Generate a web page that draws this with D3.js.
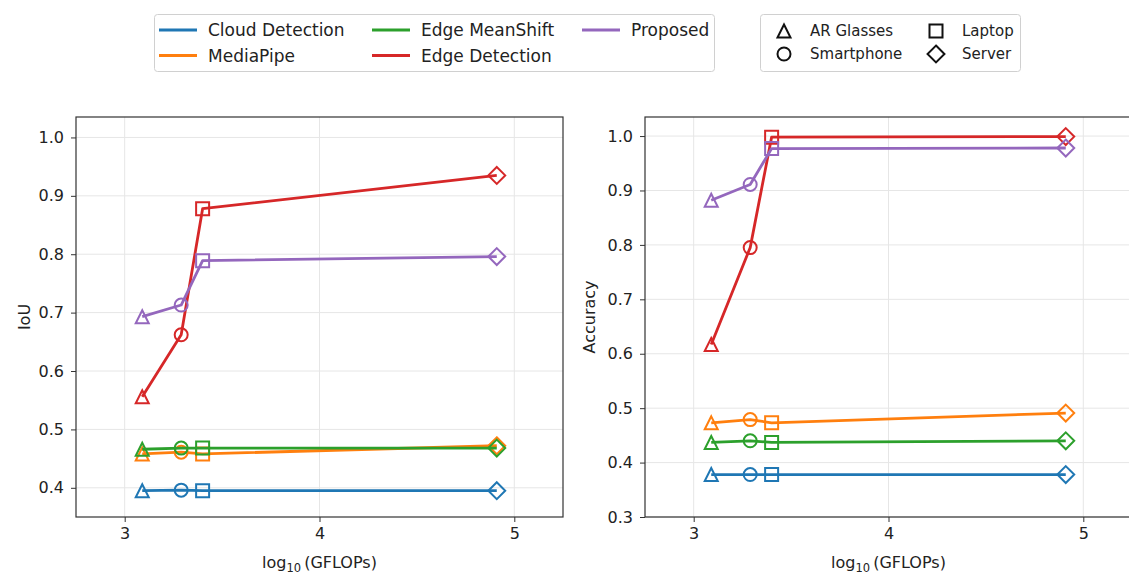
<!DOCTYPE html>
<html>
<head>
<meta charset="utf-8">
<script src="https://cdn.jsdelivr.net/npm/d3@7"></script>
<style>
  body { margin: 0; background: #fff; }
  text { font-family: "DejaVu Sans", sans-serif; fill: #222; }
</style>
</head>
<body>
<div class="box"></div>
<script>
// donnees
const methods = ['Cloud Detection', 'MediaPipe', 'Edge MeanShift', 'Edge Detection', 'Proposed']
const colors = ['#1f77b4', '#ff7f0e', '#2ca02c', '#d62728', '#9467bd']
const devices = ['AR Glasses', 'Smartphone', 'Laptop', 'Server']
const deviceShapes = ['triangle', 'circle', 'square', 'diamond']
const gflopsLog = [3.09, 3.29, 3.40, 4.91]

// IoU par methode (AR, smartphone, laptop, server)
const iouCloud = [0.395, 0.396, 0.395, 0.395]
const iouMediaPipe = [0.458, 0.461, 0.458, 0.472]
const iouMeanShift = [0.466, 0.468, 0.468, 0.468]
const iouEdge = [0.556, 0.662, 0.878, 0.935]
const iouProposed = [0.693, 0.713, 0.789, 0.796]

// Accuracy par methode
const accCloud = [0.378, 0.378, 0.378, 0.378]
const accMediaPipe = [0.473, 0.479, 0.473, 0.491]
const accMeanShift = [0.437, 0.440, 0.437, 0.440]
const accEdge = [0.617, 0.795, 0.998, 0.999]
const accProposed = [0.882, 0.911, 0.977, 0.978]

const yTicksIou = [0.4, 0.5, 0.6, 0.7, 0.8, 0.9, 1.0]
const yTicksAcc = [0.3, 0.4, 0.5, 0.6, 0.7, 0.8, 0.9, 1.0]
const xTicks = [3, 4, 5]

const svg = d3.select('.box')
  .append('svg')
  .attr('width', 1129)
  .attr('height', 575)
  .style('background-color', '#fff')

// forme des marqueurs
function markerPath(shape, r) {
  if (shape === 'triangle') return `M0,${-r}L${r},${r}L${-r},${r}Z`
  if (shape === 'square') return `M${-r},${-r}H${r}V${r}H${-r}Z`
  if (shape === 'diamond') { const d = r * 1.3; return `M0,${-d}L${d},0L0,${d}L${-d},0Z` }
  return d3.arc()({innerRadius: 0, outerRadius: r, startAngle: 0, endAngle: 2 * Math.PI})
}

function drawPanel(box, yDomain, yTicks, series, yLabel, labelOffset) {
  const x = d3.scaleLinear().domain([2.75, 5.25]).range([box.x0, box.x1])
  const y = d3.scaleLinear().domain(yDomain).range([box.y1, box.y0])
  const g = svg.append('g')

  // clip
  const id = 'clip' + box.x0
  svg.append('clipPath').attr('id', id).append('rect')
    .attr('x', box.x0).attr('y', box.y0).attr('width', box.x1 - box.x0).attr('height', box.y1 - box.y0)

  // grille
  g.selectAll('.gx').data(xTicks).enter().append('line')
    .attr('x1', d => x(d)).attr('x2', d => x(d)).attr('y1', box.y0).attr('y2', box.y1)
    .attr('stroke', '#e6e6e6').attr('stroke-width', 1)
  g.selectAll('.gy').data(yTicks).enter().append('line')
    .attr('x1', box.x0).attr('x2', box.x1).attr('y1', d => y(d)).attr('y2', d => y(d))
    .attr('stroke', '#e6e6e6').attr('stroke-width', 1)

  // axes
  const axeX = d3.axisBottom(x).tickValues(xTicks).tickFormat(d3.format('d')).tickSize(5).tickPadding(6)
  const axeY = d3.axisLeft(y).tickValues(yTicks).tickFormat(d3.format('.1f')).tickSize(5).tickPadding(7)
  const gx = svg.append('g').attr('transform', `translate(0, ${box.y1})`).call(axeX)
  const gy = svg.append('g').attr('transform', `translate(${box.x0}, 0)`).call(axeY)
  ;[gx, gy].forEach(a => {
    a.select('.domain').remove()
    a.selectAll('line').attr('stroke', '#333')
    a.selectAll('text').style('font-size', '16px').style('font-family', 'DejaVu Sans').attr('fill', '#222')
  })

  // cadre
  svg.append('rect')
    .attr('x', box.x0).attr('y', box.y0).attr('width', box.x1 - box.x0).attr('height', box.y1 - box.y0)
    .attr('fill', 'none').attr('stroke', '#333').attr('stroke-width', 1.2)

  // series
  const line = d3.line().x((d, i) => x(gflopsLog[i])).y(d => y(d))
  const plot = svg.append('g').attr('clip-path', `url(#${id})`)
  series.forEach((vals, k) => {
    plot.append('path').attr('d', line(vals))
      .attr('fill', 'none').attr('stroke', colors[k]).attr('stroke-width', 2.8)
      .attr('stroke-linejoin', 'round')
    vals.forEach((v, i) => {
      plot.append('path')
        .attr('d', markerPath(deviceShapes[i], 6.5))
        .attr('transform', `translate(${x(gflopsLog[i])}, ${y(v)})`)
        .attr('fill', 'none').attr('stroke', colors[k]).attr('stroke-width', 2)
    })
  })

  // libelles
  svg.append('text')
    .attr('transform', `translate(${box.x0 - labelOffset}, ${(box.y0 + box.y1) / 2}) rotate(-90)`)
    .attr('text-anchor', 'middle').style('font-size', '16px').text(yLabel)
  const xl = svg.append('text')
    .attr('x', (box.x0 + box.x1) / 2).attr('y', box.y1 + 51)
    .attr('text-anchor', 'middle').style('font-size', '16px')
  xl.append('tspan').text('log')
  xl.append('tspan').attr('dy', 4).style('font-size', '11.5px').text('10')
  xl.append('tspan').attr('dy', -4).attr('dx', 3).text('(GFLOPs)')
}

drawPanel({x0: 76, x1: 563, y0: 117, y1: 517}, [0.35, 1.035], yTicksIou,
  [iouCloud, iouMediaPipe, iouMeanShift, iouEdge, iouProposed], 'IoU', 46)
drawPanel({x0: 645, x1: 1132, y0: 117, y1: 517}, [0.3, 1.035], yTicksAcc,
  [accCloud, accMediaPipe, accMeanShift, accEdge, accProposed], 'Accuracy', 50)

// legende des methodes
const leg1 = svg.append('g')
leg1.append('rect').attr('x', 154.5).attr('y', 14.5).attr('width', 560).attr('height', 57).attr('rx', 3)
  .attr('fill', '#fff').attr('stroke', '#d0d0d0')
const colX = [159, 372, 582]
methods.forEach((m, k) => {
  const col = Math.floor(k / 2), row = k % 2
  const lx = colX[col], ly = 30 + row * 25.5
  leg1.append('line').attr('x1', lx).attr('x2', lx + 38).attr('y1', ly).attr('y2', ly)
    .attr('stroke', colors[k]).attr('stroke-width', 2.8)
  leg1.append('text').attr('x', lx + 49).attr('y', ly + 6).style('font-size', '17px').text(m)
})

// legende des appareils
const leg2 = svg.append('g')
leg2.append('rect').attr('x', 760.5).attr('y', 14.5).attr('width', 260).attr('height', 57).attr('rx', 3)
  .attr('fill', '#fff').attr('stroke', '#d0d0d0')
const col2X = [784, 936]
devices.forEach((dv, i) => {
  const col = Math.floor(i / 2), row = i % 2
  const mx = col2X[col], my = 31 + row * 23
  leg2.append('path').attr('d', markerPath(deviceShapes[i], 6.5))
    .attr('transform', `translate(${mx}, ${my})`)
    .attr('fill', 'none').attr('stroke', '#111').attr('stroke-width', 2)
  leg2.append('text').attr('x', mx + 26).attr('y', my + 5).style('font-size', '15px').text(dv)
})
</script>
</body>
</html>
